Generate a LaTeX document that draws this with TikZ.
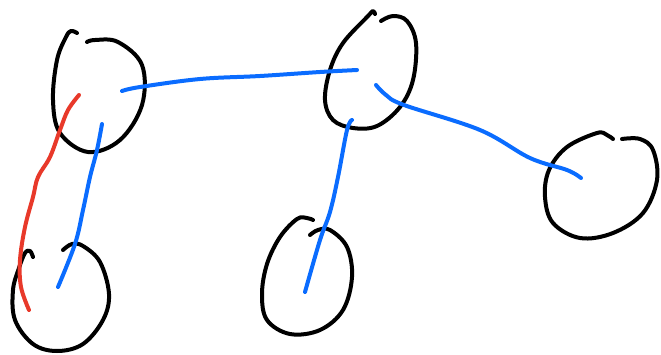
\documentclass[tikz,border=0pt]{standalone}
\definecolor{inkblue}{HTML}{0A6CFF}
\definecolor{inkred}{HTML}{E8392A}
\begin{document}
\begin{tikzpicture}[x=0.75pt,y=-0.75pt,
  ink/.style={line width=3pt,line cap=round,line join=round},
  loop/.style={ink,black},
  bluestroke/.style={ink,inkblue},
  redstroke/.style={ink,inkred}]
\useasboundingbox (0,0) rectangle (661,354);
% hand-drawn loops
\draw[loop] plot[smooth,tension=0.6] coordinates {(77,33) (71,31) (66,37) (57,60) (53,100) (60,133) (88,152) (120,140) (142,105) (142,65) (118,42) (95,40) (87,42)};
\draw[loop] plot[smooth,tension=0.6] coordinates {(375,14) (373,11) (368,16) (343,43) (330,70) (325,100) (333,120) (353,128) (377,126) (400,107) (413,80) (416,43) (407,21) (393,16) (381,21)};
\draw[loop] plot[smooth,tension=0.6] coordinates {(613,139) (607,135) (597,133) (567,147) (549,170) (545,197) (553,223) (580,238) (613,233) (643,213) (657,180) (653,150) (640,139) (622,139)};
\draw[loop] plot[smooth,tension=0.6] coordinates {(33,257) (30,251) (25,253) (19,268) (13,290) (15,320) (33,344) (57,351) (83,344) (103,320) (109,294) (100,262) (83,246) (72,244) (63,250)};
\draw[loop] plot[smooth,tension=0.6] coordinates {(313,220) (307,218) (297,219) (280,237) (267,264) (262,294) (267,320) (290,334) (320,330) (343,310) (352,277) (347,247) (330,230) (318,230) (310,235)};
% connector end points
\coordinate (a1) at (122,91);
\coordinate (b1) at (357,70);
\coordinate (b2) at (376,85);
\coordinate (c1) at (581,178);
\coordinate (b3) at (352,120);
\coordinate (e1) at (305,292);
\coordinate (a2) at (102,124);
\coordinate (d1) at (58,287);
\coordinate (a3) at (79,95);
\coordinate (d2) at (29,310);
% blue strokes
\draw[bluestroke] plot[smooth,tension=0.6] coordinates {(a1) (140,87) (200,79) (260,76) (320,72) (b1)};
\draw[bluestroke] plot[smooth,tension=0.6] coordinates {(b2) (386,95) (404,105) (480,130) (530,158) (567,170) (c1)};
\draw[bluestroke] plot[smooth,tension=0.6] coordinates {(b3) (347,130) (338,177) (330,212) (320,240) (e1)};
\draw[bluestroke] plot[smooth,tension=0.6] coordinates {(a2) (97,150) (90,177) (83,210) (75,244) (d1)};
% red stroke
\draw[redstroke] plot[smooth,tension=0.6] coordinates {(a3) (68,110) (60,130) (50,157) (38,177) (33,197) (25,227) (20,260) (21,287) (d2)};
\end{tikzpicture}
\end{document}
